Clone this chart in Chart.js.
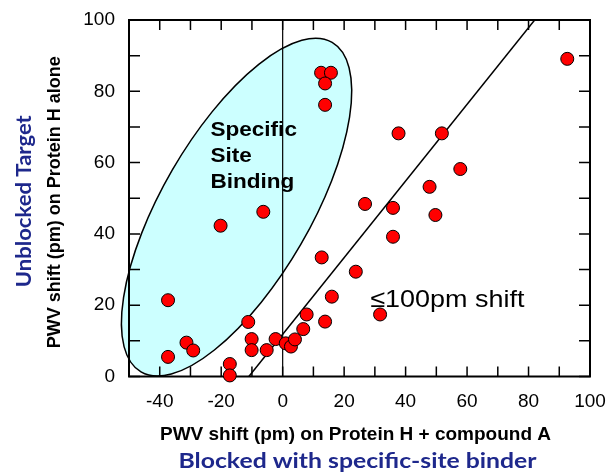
<!DOCTYPE html>
<html>
<head>
<meta charset="utf-8">
<script src="https://cdn.jsdelivr.net/npm/chart.js@4.4.1/dist/chart.umd.min.js"></script>
<style>
  html, body { margin: 0; padding: 0; background: #fff; }
</style>
</head>
<body>
<canvas id="chart" width="609" height="472"></canvas>
<script>
// x: PWV shift (pm) on Protein H + compound A, y: PWV shift (pm) on Protein H alone
const blockedShift = [
  -37.3, -37.3, -31.3, -29.1, -20.2, -6.3, -11.2, -10.1, -10.1, -5.2,
  -2.3, 1.0, 2.7, 4.0, 6.7, 7.8, 13.8, 16.0, 12.7, 23.8,
  31.7, -17.2, -17.2, 12.5, 15.7, 13.8, 13.8, 26.8, 35.9, 35.9,
  37.7, 51.8, 47.8, 49.7, 57.8, 92.6
];
const unblockedShift = [
  21.4, 5.5, 9.5, 7.3, 42.3, 46.2, 15.3, 10.5, 7.4, 7.4,
  10.5, 9.3, 8.4, 10.4, 13.3, 17.4, 15.4, 22.4, 33.4, 29.4,
  17.4, 3.5, 0.3, 85.2, 85.2, 82.2, 76.2, 48.4, 47.3, 39.2,
  68.2, 68.2, 53.2, 45.3, 58.2, 89.1
];
const fitLineX = [-11, 82];
const fitLineY = [0, 100];
const zeroLineX = [0, 0];
const zeroLineY = [0, 100];
const xTickLabels = [-40, -20, 0, 20, 40, 60, 80, 100];
const yTickLabels = [0, 20, 40, 60, 80, 100];

// annotation anchors, in data units
const siteEllipse = { center: [-15, 47.5], majorEnd: [16.1, 93.7], minorEnd: [6.0, 37.2] };
const siteLabel = { at: [-23.5, 67.6], lines: ['Specific', 'Site', 'Binding'] };
const shiftLabel = { at: [28.5, 19.5], text: '\u2264100pm shift' };

const BLUE = '#1e288c';
const SANS = '"Liberation Sans", Arial, sans-serif';
const BLUE_FONT = 'Lato, "Open Sans", sans-serif';

const toXY = (xs, ys) => xs.map((x, i) => ({ x: x, y: ys[i] }));

// text slightly stretched sideways, as in the original slide
function wideText(ctx, text, x, y, sx) {
  ctx.save();
  ctx.translate(x, y);
  ctx.scale(sx, 1);
  ctx.fillText(text, 0, 0);
  ctx.restore();
}

const annotations = {
  id: 'annotations',
  beforeDatasetsDraw(chart) {
    const { ctx, chartArea: a, scales: { x, y } } = chart;
    ctx.save();

    // shaded ellipse around the specific-site binders
    const px = p => [x.getPixelForValue(p[0]), y.getPixelForValue(p[1])];
    const [cx, cy] = px(siteEllipse.center);
    const [mx, my] = px(siteEllipse.majorEnd);
    const [nx, ny] = px(siteEllipse.minorEnd);
    ctx.beginPath();
    ctx.ellipse(cx, cy, Math.hypot(mx - cx, my - cy), Math.hypot(nx - cx, ny - cy),
      Math.atan2(my - cy, mx - cx), 0, Math.PI * 2);
    ctx.fillStyle = '#ccffff';
    ctx.fill();
    ctx.lineWidth = 1.5;
    ctx.strokeStyle = '#000';
    ctx.stroke();

    ctx.fillStyle = '#000';
    ctx.font = 'bold 20.5px ' + SANS;
    ctx.textBaseline = 'alphabetic';
    ctx.textAlign = 'left';
    const [lx, ly] = px(siteLabel.at);
    siteLabel.lines.forEach((t, i) => wideText(ctx, t, lx, ly + i * 26.4, 1.1));

    ctx.font = '24.5px ' + SANS;
    const [sx, sy] = px(shiftLabel.at);
    wideText(ctx, shiftLabel.text, sx, sy, 1.1);

    // frame with inward ticks on all four sides
    ctx.lineWidth = 1.5;
    ctx.beginPath();
    x.ticks.forEach(t => {
      const p = x.getPixelForValue(t.value);
      ctx.moveTo(p, a.bottom); ctx.lineTo(p, a.bottom - 10);
      ctx.moveTo(p, a.top); ctx.lineTo(p, a.top + 10);
    });
    y.ticks.forEach(t => {
      const p = y.getPixelForValue(t.value);
      ctx.moveTo(a.left, p); ctx.lineTo(a.left + 11, p);
      ctx.moveTo(a.right, p); ctx.lineTo(a.right - 11, p);
    });
    ctx.stroke();
    ctx.lineWidth = 2;
    ctx.strokeRect(a.left, a.top, a.right - a.left, a.bottom - a.top);
    ctx.restore();
  },
  afterDraw(chart) {
    const { ctx, chartArea: a } = chart;
    ctx.save();
    ctx.textAlign = 'center';
    ctx.textBaseline = 'alphabetic';
    const midX = (a.left + a.right) / 2 - 4;
    const midY = (a.top + a.bottom) / 2 + 4;

    ctx.fillStyle = '#000';
    ctx.font = 'bold 19px ' + SANS;
    ctx.fillText('PWV shift (pm) on Protein H + compound A', midX, a.bottom + 63.5);

    ctx.fillStyle = BLUE;
    ctx.font = 'bold 20.5px ' + BLUE_FONT;
    const blocked = 'Blocked with specific-site binder';
    wideText(ctx, blocked, midX + 2, a.bottom + 91, 358 / ctx.measureText(blocked).width);

    ctx.save();
    ctx.translate(60, midY);
    ctx.rotate(-Math.PI / 2);
    ctx.fillStyle = '#000';
    ctx.font = 'bold 18px ' + SANS;
    ctx.fillText('PWV shift (pm) on Protein H alone', 0, 0);
    ctx.restore();

    ctx.save();
    ctx.translate(31, midY - 1);
    ctx.rotate(-Math.PI / 2);
    ctx.fillStyle = BLUE;
    ctx.font = 'bold 21.5px ' + BLUE_FONT;
    const unblocked = 'Unblocked Target';
    wideText(ctx, unblocked, 0, 0, 172 / ctx.measureText(unblocked).width);
    ctx.restore();

    ctx.restore();
  }
};

new Chart(document.getElementById('chart'), {
  type: 'scatter',
  data: {
    datasets: [
      {
        label: 'Binding',
        data: toXY(blockedShift, unblockedShift),
        backgroundColor: '#ff0000',
        borderColor: '#000',
        borderWidth: 1,
        pointRadius: 6.5,
        clip: false,
        order: 1
      },
      {
        label: 'Fit',
        type: 'line',
        data: toXY(fitLineX, fitLineY),
        borderColor: '#000',
        borderWidth: 1.5,
        pointRadius: 0,
        fill: false,
        order: 2
      },
      {
        label: 'Zero',
        type: 'line',
        data: toXY(zeroLineX, zeroLineY),
        borderColor: '#000',
        borderWidth: 1.2,
        pointRadius: 0,
        fill: false,
        order: 3
      }
    ]
  },
  options: {
    responsive: false,
    animation: false,
    layout: { padding: { top: 20, right: 19, left: 0, bottom: 0 } },
    plugins: {
      legend: { display: false },
      tooltip: { enabled: false }
    },
    scales: {
      x: {
        type: 'linear',
        min: -50,
        max: 100,
        grid: { display: false, drawTicks: false },
        border: { display: false },
        ticks: {
          stepSize: 10,
          autoSkip: false,
          maxRotation: 0,
          padding: 14,
          color: '#000',
          font: { family: SANS, size: 19 },
          callback: v => xTickLabels.includes(v) ? String(v) : ''
        },
        afterFit: s => { s.height = 95.5; s.paddingLeft = 0; s.paddingRight = 0; }
      },
      y: {
        type: 'linear',
        min: 0,
        max: 100,
        grid: { display: false, drawTicks: false },
        border: { display: false },
        ticks: {
          stepSize: 10,
          autoSkip: false,
          padding: 14,
          color: '#000',
          font: { family: SANS, size: 19 },
          callback: v => yTickLabels.includes(v) ? String(v) : ''
        },
        afterFit: s => { s.width = 129; s.paddingTop = 0; s.paddingBottom = 0; }
      }
    }
  },
  plugins: [annotations]
});
</script>
</body>
</html>
